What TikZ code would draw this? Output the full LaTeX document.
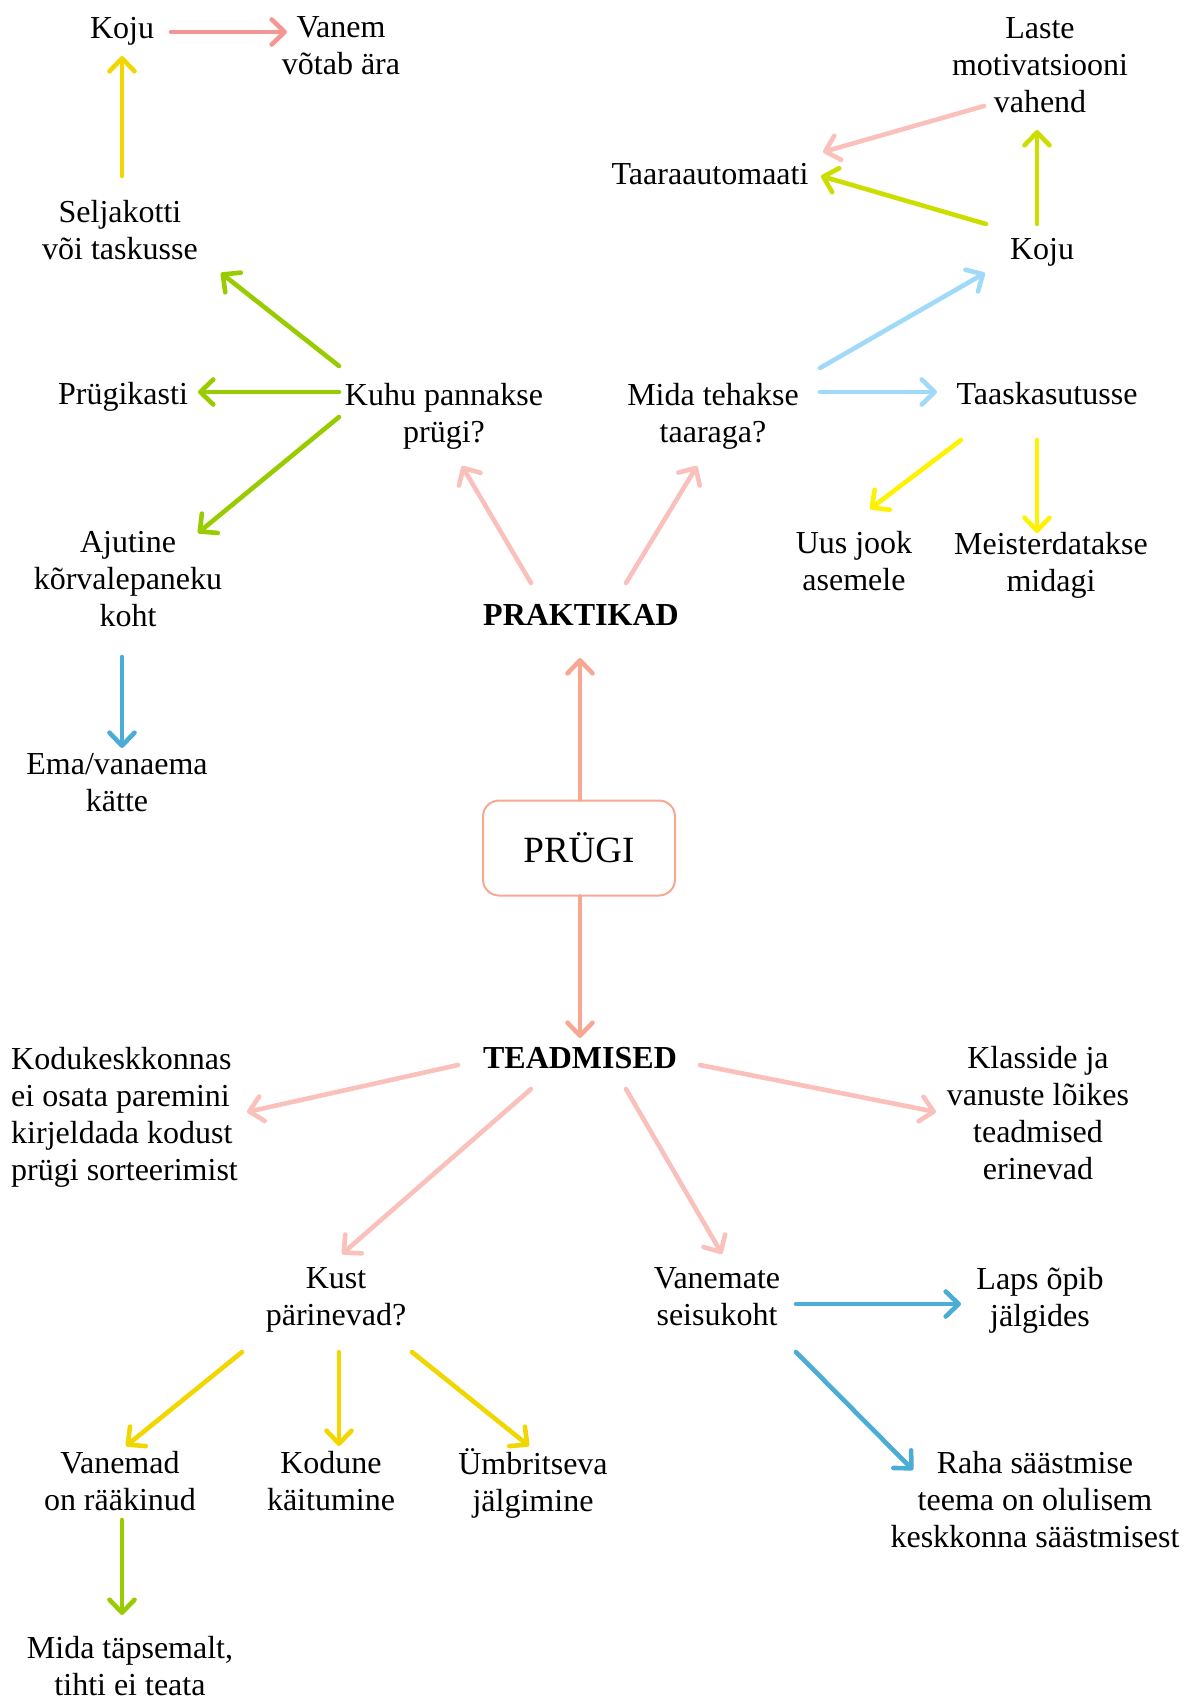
\documentclass[tikz,border=0pt]{standalone}
\usepackage{fontspec}
\setmainfont{Liberation Serif}
\usetikzlibrary{arrows.meta,calc}
\definecolor{csalmon}{RGB}{246,150,146}
\definecolor{cprugi}{RGB}{248,168,146}
\definecolor{cpink}{RGB}{249,192,188}
\definecolor{cgreen}{RGB}{153,204,0}
\definecolor{cgold}{RGB}{242,214,0}
\definecolor{cygreen}{RGB}{204,222,0}
\definecolor{cyellow}{RGB}{255,242,0}
\definecolor{clblue}{RGB}{160,218,248}
\definecolor{cblue}{RGB}{75,172,214}
\newcommand\mfs{\fontsize{32}{37}\selectfont}
\tikzset{
  txt/.style={align=center, inner sep=0pt, font=\mfs},
  arr/.style={line width=4.6pt, line cap=round, -{Straight Barb[length=13pt,width=25pt,round]}},
}
\begin{document}
\begin{tikzpicture}[x=1pt,y=-1pt]
\useasboundingbox (0,0) rectangle (1192,1699);
% nodes
\node[txt] (kojuL) at (122,31) {Koju};
\node[txt] (vanem) at (341,46) {Vanem\\võtab ära};
\node[txt] (selja) at (120,230) {Seljakotti\\või taskusse};
\node[txt] (kuhu) at (444,416) {Kuhu pannakse\\prügi?};
\node[txt] (prugikasti) at (123,397) {Prügikasti};
\node[txt] (ajutine) at (128,579) {Ajutine\\kõrvalepaneku\\koht};
\node[txt] (ema) at (117,783) {Ema/vanaema\\kätte};
\node[draw=cprugi, line width=2pt, rounded corners=16pt, minimum width=192pt, minimum height=95pt, inner sep=0pt, font=\fontsize{37}{44}\selectfont] (prugi) at (579,848) {PRÜGI};
\node[txt, font=\mfs\bfseries] (praktikad) at (581,615) {PRAKTIKAD};
\node[txt, font=\mfs\bfseries] (teadmised) at (580,1058) {TEADMISED};
\node[txt] (mida) at (713,416) {Mida tehakse\\taaraga?};
\node[txt] (taask) at (1047,394) {Taaskasutusse};
\node[txt] (kojuR) at (1042,252) {Koju};
\node[txt] (taara) at (710,174) {Taaraautomaati};
\node[txt] (laste) at (1040,65) {Laste\\motivatsiooni\\vahend};
\node[txt] (uus) at (854,561) {Uus jook\\asemele};
\node[txt] (meister) at (1051,565) {Meisterdatakse\\midagi};
\node[txt, align=left, anchor=west] (kodu) at (11,1117) {Kodukeskkonnas\\ei osata paremini\\kirjeldada kodust\\prügi sorteerimist};
\node[txt] (klass) at (1038,1113) {Klasside ja\\vanuste lõikes\\teadmised\\erinevad};
\node[txt] (kust) at (336,1300) {Kust\\pärinevad?};
\node[txt] (vanemate) at (717,1297) {Vanemate\\seisukoht};
\node[txt] (laps) at (1040,1300) {Laps õpib\\jälgides};
\node[txt] (raha) at (1035,1500) {Raha säästmise\\teema on olulisem\\keskkonna säästmisest};
\node[txt] (vanemad) at (120,1481) {Vanemad\\on rääkinud};
\node[txt] (kodune) at (331,1481) {Kodune\\käitumine};
\node[txt] (umbr) at (533,1483) {Ümbritseva\\jälgimine};
\node[txt] (tapsemalt) at (130,1666) {Mida täpsemalt,\\tihti ei teata};
% connectors
\draw[arr, csalmon] ($(kojuL)+(49,1)$) -- ($(vanem)+(-54,-14)$);
\draw[arr, cgold] ($(selja)+(2,-54)$) -- ($(kojuL)+(0,25)$);
\draw[arr, cgreen] ($(kuhu)+(-105,-50)$) -- ($(selja)+(101,43)$);
\draw[arr, cgreen] ($(kuhu)+(-105,-24)$) -- ($(prugikasti)+(75,-5)$);
\draw[arr, cgreen] ($(kuhu)+(-105,1)$) -- ($(ajutine)+(70,-46)$);
\draw[arr, cblue] ($(ajutine)+(-6,78)$) -- ($(ema)+(5,-35)$);
\draw[arr, cprugi] ($(prugi.north)+(1,0)$) -- ($(praktikad)+(-1,43)$);
\draw[arr, cprugi] ($(prugi.south)+(1,0)$) -- ($(teadmised)+(0,-20)$);
\draw[arr, cpink] ($(praktikad)+(-50,-32)$) -- ($(kuhu)+(18,50)$);
\draw[arr, cpink] ($(praktikad)+(45,-32)$) -- ($(mida)+(-16,50)$);
\draw[arr, clblue] ($(mida)+(107,-48)$) -- ($(kojuR)+(-57,21)$);
\draw[arr, clblue] ($(mida)+(107,-24)$) -- ($(taask)+(-110,-2)$);
\draw[arr, cygreen] ($(kojuR)+(-5,-28)$) -- ($(laste)+(-3,65)$);
\draw[arr, cygreen] ($(kojuR)+(-56,-28)$) -- ($(taara)+(111,2)$);
\draw[arr, cpink] ($(laste)+(-56,41)$) -- ($(taara)+(113,-22)$);
\draw[arr, cyellow] ($(taask)+(-86,46)$) -- ($(uus)+(16,-52)$);
\draw[arr, cyellow] ($(taask)+(-10,46)$) -- ($(meister)+(-14,-32)$);
\draw[arr, cpink] ($(teadmised)+(-122,7)$) -- ($(kodu.west)+(236,-5)$);
\draw[arr, cpink] ($(teadmised)+(120,7)$) -- ($(klass)+(-102,-1)$);
\draw[arr, cpink] ($(teadmised)+(-49,31)$) -- ($(kust)+(6,-46)$);
\draw[arr, cpink] ($(teadmised)+(46,31)$) -- ($(vanemate)+(5,-43)$);
\draw[arr, cblue] ($(vanemate)+(79,7)$) -- ($(laps)+(-79,4)$);
\draw[arr, cblue] ($(vanemate)+(79,55)$) -- ($(raha)+(-122,-30)$);
\draw[arr, cgold] ($(kust)+(-94,52)$) -- ($(vanemad)+(6,-35)$);
\draw[arr, cgold] ($(kust)+(3,52)$) -- ($(kodune)+(8,-35)$);
\draw[arr, cgold] ($(kust)+(76,52)$) -- ($(umbr)+(-4,-37)$);
\draw[arr, cgreen] ($(vanemad)+(2,39)$) -- ($(tapsemalt)+(-8,-51)$);
\end{tikzpicture}
\end{document}
